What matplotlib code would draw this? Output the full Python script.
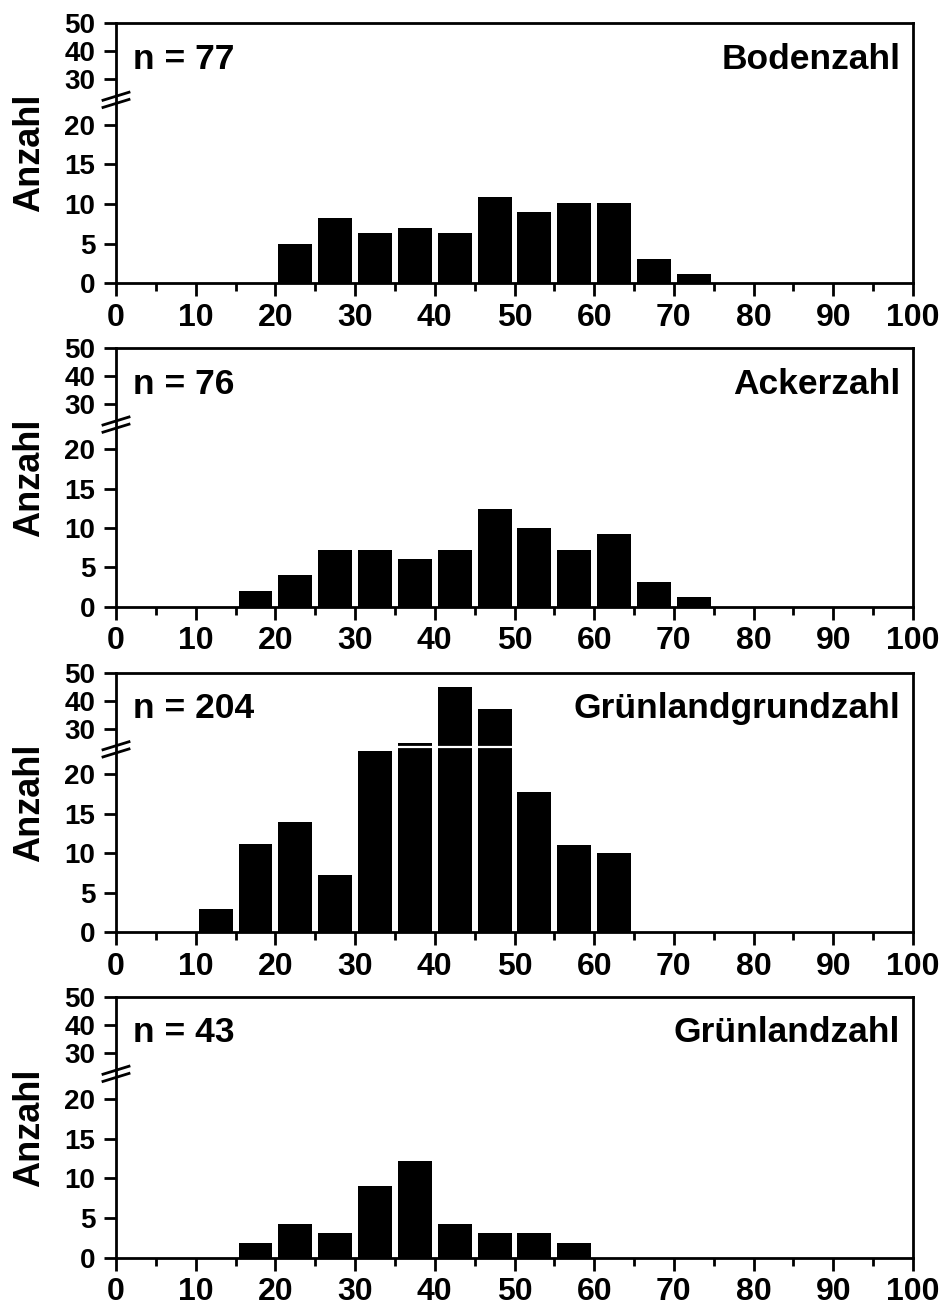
# Histogramme der Bodenschaetzungszahlen mit unterbrochener y-Achse
import numpy as np
import matplotlib
matplotlib.use('Agg')
import matplotlib.pyplot as plt
from matplotlib.ticker import MultipleLocator, FixedLocator

plt.rcParams['font.family'] = ['Liberation Sans', 'DejaVu Sans']
plt.rcParams['font.weight'] = 'bold'

# Klassenmitten (5er Klassen)
klassen = [12.5, 17.5, 22.5, 27.5, 32.5, 37.5, 42.5, 47.5, 52.5, 57.5, 62.5, 67.5, 72.5]

# Anzahl je Klasse
bodenzahl = [0, 0, 5.0, 8.2, 6.3, 7.0, 6.3, 10.9, 9.0, 10.1, 10.1, 3.1, 1.2]
ackerzahl = [0, 2.0, 4.0, 7.2, 7.2, 6.0, 7.2, 12.4, 10.0, 7.2, 9.2, 3.2, 1.2]
gruenlandgrundzahl = [2.9, 11.2, 13.9, 7.2, 22.9, 25.0, 44.9, 37.2, 17.7, 11.1, 10.0, 0, 0]
gruenlandzahl = [0, 1.9, 4.3, 3.1, 9.0, 12.2, 4.3, 3.1, 3.1, 1.9, 0, 0, 0]

titel = ['Bodenzahl', 'Ackerzahl', 'Grünlandgrundzahl', 'Grünlandzahl']
n_werte = [77, 76, 204, 43]
daten = [bodenzahl, ackerzahl, gruenlandgrundzahl, gruenlandzahl]

y_ticks = [0, 5, 10, 15, 20, 30, 40, 50]

# Achsenbruch: unter b linear, darueber gestaucht
b = 23.4
k = 0.355


def fwd(y):
    y = np.asarray(y, dtype=float)
    return np.where(y <= b, y, b + (y - b) * k)


def inv(u):
    u = np.asarray(u, dtype=float)
    return np.where(u <= b, u, b + (u - b) / k)


W, H = 940, 1311
fig = plt.figure(figsize=(W / 100, H / 100), dpi=100)

# Pixelpositionen der Panels (oben, unten)
panels_px = [(23, 283.3), (348.3, 606.7), (672.7, 932.3), (996.7, 1258)]
x0_px, x1_px = 116, 913

for (top, bot), werte, name, n in zip(panels_px, daten, titel, n_werte):
    ax = fig.add_axes([x0_px / W, 1 - bot / H, (x1_px - x0_px) / W, (bot - top) / H])
    ax.set_yscale('function', functions=(fwd, inv))
    ax.bar(klassen, werte, width=4.25, color='black', linewidth=0, zorder=1)
    ax.axhline(b, color='white', lw=1.6, zorder=1.5)

    ax.set_xlim(0, 100)
    ax.set_ylim(0, 50)
    ax.xaxis.set_major_locator(MultipleLocator(10))
    ax.xaxis.set_minor_locator(MultipleLocator(5))
    ax.yaxis.set_major_locator(FixedLocator(y_ticks))
    ax.yaxis.set_minor_locator(FixedLocator([]))
    ax.tick_params(which='major', direction='out', length=9, width=2)
    ax.tick_params(which='minor', direction='out', length=5.5, width=2)
    ax.tick_params(axis='x', labelsize=23, pad=5)
    ax.tick_params(axis='y', labelsize=20, pad=6)
    for sp in ax.spines.values():
        sp.set_linewidth(2)

    ax.set_ylabel('Anzahl', fontsize=26, fontweight='bold')
    ax.yaxis.set_label_coords(-0.086, 0.5)

    ax.text(0.021, 0.825, f'n = {n}', transform=ax.transAxes, fontsize=25.5,
            ha='left', va='baseline')
    ax.text(0.984, 0.825, name, transform=ax.transAxes, fontsize=25.5,
            ha='right', va='baseline')

    # Bruchzeichen an der linken Achse
    h_px = bot - top
    yb = float(fwd(b)) / float(fwd(50)) - 2 / h_px
    dx = 13 / (x1_px - x0_px)
    dy = 4 / h_px
    for off in (dy * 0.9, -dy * 0.9):
        ax.plot([-dx, dx], [yb + off - dy, yb + off + dy], color='black', lw=2,
                transform=ax.transAxes, clip_on=False)

plt.savefig('out.png', dpi=100)
